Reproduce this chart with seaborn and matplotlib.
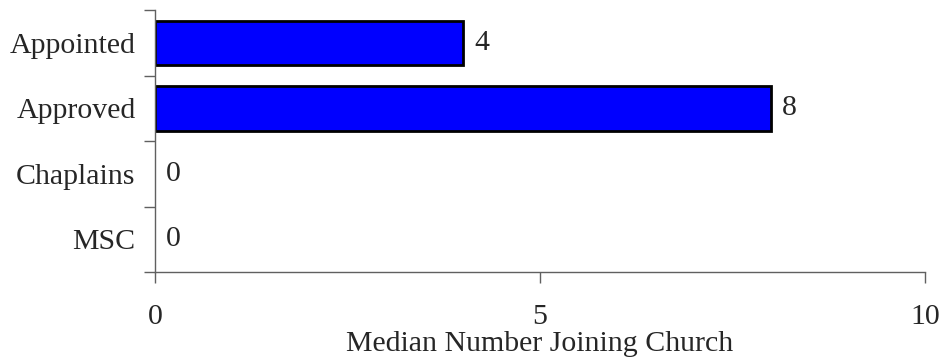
import matplotlib
matplotlib.use("Agg")
import matplotlib.pyplot as plt
import seaborn as sns
import pandas as pd
import numpy as np

groups = ["Appointed", "Approved", "Chaplains", "MSC"]
median_joining = [4, 8, 0, 0]

df = pd.DataFrame({"group": groups, "median": median_joining})

sns.set_style("white")
plt.rcParams["font.family"] = ["Liberation Serif", "DejaVu Serif"]

fig = plt.figure(figsize=(9.43, 3.62), dpi=100)
ax = fig.add_axes([0.1644, 0.2486, 0.8166, 0.7234])

sns.barplot(data=df, x="median", y="group", orient="h", color="#0000FF",
            saturation=1, edgecolor="black", linewidth=2, width=0.68, ax=ax)

# no outline on empty bars
for p in ax.patches:
    if p.get_width() == 0:
        p.set_linewidth(0)

for c in ax.containers:
    ax.bar_label(c, padding=8, fontsize=21.5)

ax.set_xlim(0, 10)
ax.set_ylim(3.5, -0.5)
ax.set_xticks([0, 5, 10])
ax.set_yticks(range(len(groups)))
ax.set_yticklabels(groups)
ax.set_yticks(np.arange(-0.5, len(groups), 1), minor=True)
ax.tick_params(axis="y", which="major", left=True, length=0, pad=14, labelsize=21.5)
ax.tick_params(axis="y", which="minor", left=True, length=8, width=1, color="#606060", direction="out")
ax.tick_params(axis="x", which="major", bottom=True, length=8, width=1, color="#606060", direction="out",
               pad=15, labelsize=21.5)
ax.set_xlabel("Median Number Joining Church", fontsize=21.5)
ax.xaxis.set_label_coords(0.5, -0.225)
ax.set_ylabel("")

for side in ["top", "right"]:
    ax.spines[side].set_visible(False)
for side in ["left", "bottom"]:
    ax.spines[side].set_color("#606060")
    ax.spines[side].set_linewidth(1)

fig.savefig("out.png", dpi=100)
